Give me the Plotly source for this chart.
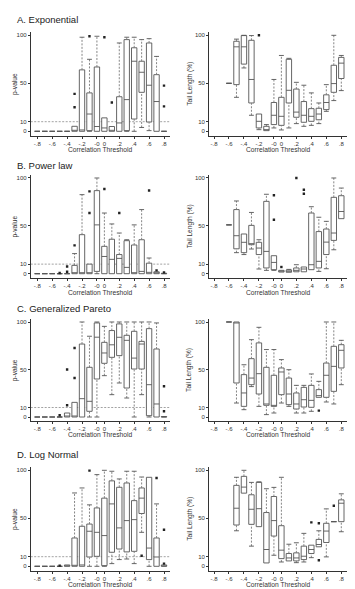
import plotly.graph_objects as go

W, H = 355, 589
FONT = "Liberation Sans, Arial, sans-serif"

# ---------------- data ----------------
idx = list(range(18))  # thresholds -.8 ... -0, 0 ... .8
tick_idx = [0, 2, 4, 6, 8, 9, 11, 13, 15, 17]
tick_txt = ["-.8", "-.6", "-.4", "-.2", "-0", "0", ".2", ".4", ".6", ".8"]
y_ticks = [0, 10, 50, 100]
ref_line = 10
N = None

# A. Exponential, p-value
exp_p_lo  = [0, 0, 0, 0, 0, 0, 0, 0, 0, 0, 0, 0, 0, 0, 4, 0.7, 0, 0]
exp_p_q1  = [0, 0, 0, 0, 0, 0, 0, 0.7, 0, 0, 0, 0, 0.7, 12.8, 40.6, 9.7, 0, 0]
exp_p_med = [0, 0, 0, 0, 0, 0, 1.4, 18, 5, 3.5, 1, 8.7, 33, 73, 61.5, 48, 31, 0]
exp_p_q3  = [0, 0, 0, 0, 0, 5.2, 64, 40, 67, 14, 5, 36, 95.5, 87, 73, 92, 59, 0]
exp_p_hi  = [0, 0, 0, 0, 0, 5.2, 98, 75, 99, 14, 5, 92, 98, 98, 95.5, 96.5, 78, 0]
exp_p_ox  = [5, 5, 7, 9, 10, 17, 17]
exp_p_oy  = [25, 39, 99, 98, 30, 47.6, 26]

# A. Exponential, tail length
exp_t_lo  = [N, N, 50, 35.4, 66, 16.7, 1.7, 0.7, 3.5, 1.4, 3.5, 8, 5.2, 6.2, 8, 20.8, 32, 42.4]
exp_t_q1  = [N, N, 50, 48.6, 70, 29.5, 3.5, 0.7, 7, 6.2, 29.5, 14.6, 9.4, 10.4, 12, 22.6, 40.6, 55]
exp_t_med = [N, N, 50, 88, 88, 54, 10.4, 0.7, 16.7, 15.6, 42.7, 20, 16.7, 15.6, 18, 30, 49.7, 71]
exp_t_q3  = [N, N, 50, 93.8, 99.7, 94.8, 18, 5.2, 30, 35.4, 75, 44, 31, 23.6, 24, 38, 68.8, 77]
exp_t_hi  = [N, N, 50, 96, 100, 99.7, 18, 7, 54, 79, 76, 51, 48, 40, 29.5, 48.6, 100, 79]
exp_t_ox  = [6]
exp_t_oy  = [100]

# B. Power law, p-value
pow_p_lo  = [0] * 18
pow_p_q1  = [0, 0, 0, 0, 0, 0, 0, 0, 2.4, 0, 0, 0, 0, 0, 0, 0, 0, 0]
pow_p_med = [0, 0, 0, 0, 0, 0.7, 0.7, 0, 51, 18, 15, 16, 6.6, 0.7, 2.4, 1.4, 0.5, 0]
pow_p_q3  = [0, 0, 0, 0, 0, 8.7, 40.8, 10, 86.8, 28.6, 36, 20, 34.5, 30, 35.5, 11, 2, 0.5]
pow_p_hi  = [0, 0, 0, 0, 0, 21, 82.6, 10, 100, 63.4, 52, 42.5, 35.5, 51, 67, 16.4, 2, 0.5]
pow_p_ox  = [3, 4, 4, 5, 7, 7, 9, 11, 15, 16, 17]
pow_p_oy  = [0.7, 7.5, 2, 29.6, 86, 63.4, 88.5, 63.4, 87, 3.5, 1.4]

# B. Power law, tail length
pow_t_lo  = [N, N, 51, 22, 20, 25.8, 4.9, 3.5, 3.5, 1.7, 1.5, 2, 2, 4.2, 2.4, 5.2, 25, 57.5]
pow_t_q1  = [N, N, 51, 26, 22, 30.3, 20, 6, 4.2, 1.7, 1.5, 2, 2, 4.2, 6, 20, 34.8, 57.5]
pow_t_med = [N, N, 51, 39.7, 32.8, 31.4, 26.8, 23.3, 11.8, 2.6, 2.5, 3.5, 4.9, 9.4, 12.9, 33, 42.5, 65]
pow_t_q3  = [N, N, 51, 67, 41.5, 50.5, 32.8, 75.6, 18.8, 3.5, 3.8, 6, 7, 63.4, 44, 46.7, 79.8, 81.5]
pow_t_hi  = [N, N, 51, 76, 41.5, 64, 35.5, 83, 18.8, 3.5, 4.5, 9.4, 7, 70, 59, 54.7, 100, 89.5]
pow_t_ox  = [8, 8, 9, 11, 12, 12]
pow_t_oy  = [81.9, 56.4, 7, 100, 87.8, 83.6]

# C. Generalized Pareto, p-value
gp_p_lo  = [0, 0, 0, 0, 0, 0, 0, 0, 0, 43.5, 23.5, 35.8, 20, 0, 23.5, 0, 0, 0]
gp_p_q1  = [0, 0, 0, 0, 0, 0, 0, 6, 40, 56.5, 62.8, 64.6, 30.5, 50.5, 50.5, 1.4, 0, 0]
gp_p_med = [0, 0, 0, 0, 0.5, 1, 19.3, 16.5, 84, 67.4, 76, 83.9, 80.7, 62, 76.8, 34, 13.7, 0]
gp_p_q3  = [0, 0, 0, 0, 4.2, 15.4, 76.8, 52.3, 99, 78.6, 91, 98, 86, 90.2, 79.6, 93, 71.6, 0.5]
gp_p_hi  = [0, 0, 0, 0, 4.2, 15.4, 100, 85, 100, 95.4, 100, 100, 100, 100, 100, 100, 99, 0.5]
gp_p_ox  = [3, 4, 4, 5, 5, 17, 17]
gp_p_oy  = [1.8, 12.3, 50, 72.6, 41, 32.3, 6]

# C. Generalized Pareto, tail length
gp_t_lo  = [N, N, 100, 14.7, 7.7, 32, 11.2, 2.5, 4.2, 14.7, 11.2, 4.2, 4.2, 6, 20.7, 15.8, 13.7, 34]
gp_t_q1  = [N, N, 100, 35.8, 11.2, 34, 24.2, 12.3, 11.2, 23.5, 13, 8.4, 10.5, 10.2, 20.7, 20.7, 27, 51.6]
gp_t_med = [N, N, 100, 100, 25.3, 41, 45.6, 13.7, 11.5, 47.4, 24.2, 13.7, 18.2, 17.5, 22.5, 43.9, 53.3, 70.2]
gp_t_q3  = [N, N, 100, 100, 44.6, 61.4, 78, 52.3, 43.9, 51.6, 41, 25.3, 31.2, 33.3, 28.8, 56.8, 74.4, 76.1]
gp_t_hi  = [N, N, 100, 100, 55, 81.4, 94.4, 71, 71, 60.4, 49.8, 33.3, 33.3, 45.3, 37.5, 100, 100, 80.7]
gp_t_ox  = [14]
gp_t_oy  = [6.7]

# D. Log Normal, p-value
ln_p_lo  = [0, 0, 0, 0, 0, 0, 0, 0, 0, 0, 2.8, 7, 7.6, 2.8, 35.4, 0, 0, 0]
ln_p_q1  = [0, 0, 0, 0, 0, 0, 0, 9.7, 10.4, 0.7, 14.6, 18, 15, 15.6, 55, 7, 0, 0]
ln_p_med = [0, 0, 0, 0, 0.5, 0.7, 1.4, 36.5, 35.4, 32, 65, 40, 47.6, 48.6, 71, 19, 9.7, 0]
ln_p_q3  = [0, 0, 0, 0, 1.4, 29.5, 41.7, 44, 60.8, 71, 89, 82.3, 86.8, 68.4, 81.6, 92.7, 29.5, 1.4]
ln_p_hi  = [0, 0, 0, 0, 1.4, 76.4, 81.6, 64, 95.5, 100, 99, 91, 99, 99, 93, 92.7, 65, 1.4]
ln_p_ox  = [3, 7, 14, 16, 17, 17]
ln_p_oy  = [0.7, 99.7, 11, 92, 38, 2.8]

# D. Log Normal, tail length
ln_t_lo  = [N, N, N, 37, 76.2, 21, 41.3, 3.5, 11.5, 4.5, 5.6, 3.8, 4.5, 9, 20.3, 9.8, 46.5, 36]
ln_t_q1  = [N, N, N, 43, 76.2, 43.7, 41.3, 3.5, 31.5, 8, 5.6, 5.6, 7, 13.3, 20.3, 24.8, 46.5, 46.5]
ln_t_med = [N, N, N, 60.5, 82.5, 59.4, 60, 17.5, 47.6, 16.8, 8.7, 8.7, 10.5, 17.5, 22.7, 36.7, 46.5, 65.7]
ln_t_q3  = [N, N, N, 84.3, 93.7, 74.5, 87.4, 56, 72.7, 42.3, 13.3, 14, 21, 22, 28, 44.8, 46.5, 69.2]
ln_t_hi  = [N, N, N, 92.7, 100, 87.4, 88, 80.8, 82.2, 92.7, 23, 24.5, 34.3, 22, 37, 59.8, 46.5, 75.5]
ln_t_ox  = [13, 14, 14, 16]
ln_t_oy  = [45.8, 44.8, 6.3, 63]

titles = ["A. Exponential", "B. Power law", "C. Generalized Pareto", "D. Log Normal"]
ytitles = ["p-value", "Tail Length (%)"]
xtitle = "Correlation Threshold"

panels = [
    (exp_p_lo, exp_p_q1, exp_p_med, exp_p_q3, exp_p_hi, exp_p_ox, exp_p_oy),
    (exp_t_lo, exp_t_q1, exp_t_med, exp_t_q3, exp_t_hi, exp_t_ox, exp_t_oy),
    (pow_p_lo, pow_p_q1, pow_p_med, pow_p_q3, pow_p_hi, pow_p_ox, pow_p_oy),
    (pow_t_lo, pow_t_q1, pow_t_med, pow_t_q3, pow_t_hi, pow_t_ox, pow_t_oy),
    (gp_p_lo, gp_p_q1, gp_p_med, gp_p_q3, gp_p_hi, gp_p_ox, gp_p_oy),
    (gp_t_lo, gp_t_q1, gp_t_med, gp_t_q3, gp_t_hi, gp_t_ox, gp_t_oy),
    (ln_p_lo, ln_p_q1, ln_p_med, ln_p_q3, ln_p_hi, ln_p_ox, ln_p_oy),
    (ln_t_lo, ln_t_q1, ln_t_med, ln_t_q3, ln_t_hi, ln_t_ox, ln_t_oy),
]

# ---------------- layout geometry (pixels) ----------------
row_px = [(123.3, 27.3), (265.7, 170.0), (409.0, 314.0), (558.3, 462.3)]  # y of 0 and 100
col_px = [(22.7, 161.7, 29.3, 156.0), (201.0, 339.0, 206.0, 333.3)]     # axis L, R, first, last cat
title_y = [12.0, 157.3, 300.0, 446.7]
xtitle_y = [141.7, 284.3, 426.7, 576.7]
ytitle_x = [7.0, 181.7]
Y_LO, Y_HI = -4.5, 103

BOX_LINE = "#555555"
WHISK = "#777777"

fig = go.Figure()
layout = dict(
    width=W, height=H, margin=dict(l=0, r=0, t=0, b=0),
    paper_bgcolor="white", plot_bgcolor="white",
    showlegend=False, boxmode="overlay",
    font=dict(family=FONT, color="#333"),
)
annotations = []
shapes = []

for k, (lo, q1, med, q3, hi, ox, oy) in enumerate(panels):
    r, c = divmod(k, 2)
    xa = "x" if k == 0 else f"x{k+1}"
    ya = "y" if k == 0 else f"y{k+1}"
    y0p, y100p = row_px[r]
    axL, axR, p0, p17 = col_px[c]
    per = (p17 - p0) / 17.0
    xr = [(axL - p0) / per, 17 + (axR - p17) / per]
    s = (y0p - y100p) / 100.0
    top = y0p - Y_HI * s
    bot = y0p - Y_LO * s
    xdom = [axL / W, axR / W]
    ydom = [1 - bot / H, 1 - top / H]

    keep = [i for i in idx if q1[i] is not None]
    fig.add_trace(go.Box(
        x=keep,
        q1=[q1[i] for i in keep], median=[med[i] for i in keep], q3=[q3[i] for i in keep],
        lowerfence=[q1[i] for i in keep], upperfence=[q3[i] for i in keep],
        width=0.72, whiskerwidth=0, boxpoints=False,
        fillcolor="white", line=dict(color=BOX_LINE, width=0.9),
        xaxis=xa, yaxis=ya, hoverinfo="skip",
    ))
    # dashed whiskers
    wx, wy, cx, cy = [], [], [], []
    for i in keep:
        if lo[i] < q1[i]:
            wx += [i, i, None]; wy += [lo[i], q1[i], None]
            cx.append(i); cy.append(lo[i])
        if hi[i] > q3[i]:
            wx += [i, i, None]; wy += [q3[i], hi[i], None]
            cx.append(i); cy.append(hi[i])
    fig.add_trace(go.Scatter(
        x=wx, y=wy, mode="lines", line=dict(color=WHISK, width=0.9, dash="2px,1.5px"),
        xaxis=xa, yaxis=ya, hoverinfo="skip"))
    fig.add_trace(go.Scatter(
        x=cx, y=cy, mode="markers",
        marker=dict(symbol="line-ew", size=3.5, line=dict(color=BOX_LINE, width=0.9)),
        xaxis=xa, yaxis=ya, hoverinfo="skip"))
    # outliers
    fig.add_trace(go.Scatter(
        x=ox, y=oy, mode="markers",
        marker=dict(symbol="square", size=2.4, color="#222", line=dict(width=0)),
        xaxis=xa, yaxis=ya, hoverinfo="skip"))

    axis_common = dict(
        showline=True, linecolor="#333", linewidth=0.8, ticks="outside", ticklen=2,
        tickwidth=0.8, tickcolor="#333", showgrid=False, zeroline=False,
        tickfont=dict(family=FONT, size=6, color="#333"), fixedrange=True,
    )
    layout["xaxis" if k == 0 else f"xaxis{k+1}"] = dict(
        axis_common, domain=xdom, range=xr, anchor=ya,
        tickmode="array", tickvals=tick_idx, ticktext=tick_txt)
    layout["yaxis" if k == 0 else f"yaxis{k+1}"] = dict(
        axis_common, domain=ydom, range=[Y_LO, Y_HI], anchor=xa,
        tickmode="array", tickvals=y_ticks, ticktext=[str(v) for v in y_ticks])

    if c == 0:
        shapes.append(dict(type="line", xref=f"{xa} domain", yref=ya, x0=0, x1=1,
                           y0=ref_line, y1=ref_line,
                           line=dict(color="#8a8a8a", width=0.8, dash="2px,1.5px"), layer="below"))
        annotations.append(dict(text=titles[r], x=6.7 / W, y=1 - title_y[r] / H,
                                xref="paper", yref="paper", xanchor="left", yanchor="middle",
                                showarrow=False, font=dict(family=FONT, size=9.5, color="#222")))
    annotations.append(dict(text=ytitles[c], x=ytitle_x[c] / W, y=(ydom[0] + ydom[1]) / 2,
                            xref="paper", yref="paper", xanchor="center", yanchor="middle",
                            textangle=-90, showarrow=False,
                            font=dict(family=FONT, size=6.6, color="#333")))
    annotations.append(dict(text=xtitle, x=(xdom[0] + xdom[1]) / 2, y=1 - xtitle_y[r] / H,
                            xref="paper", yref="paper", xanchor="center", yanchor="middle",
                            showarrow=False, font=dict(family=FONT, size=6.7, color="#333")))

layout["annotations"] = annotations
layout["shapes"] = shapes
fig.update_layout(**layout)
fig.write_html("out.html")
